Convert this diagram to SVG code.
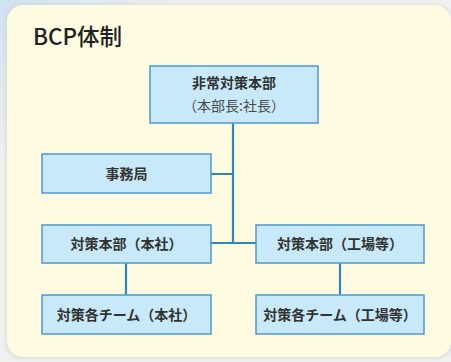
<svg xmlns="http://www.w3.org/2000/svg" width="451" height="362" viewBox="0 0 451 362">
<defs>
<radialGradient id="bg" cx="0" cy="0" r="1" gradientUnits="userSpaceOnUse" gradientTransform="translate(0 0) scale(200 160)">
<stop offset="0" stop-color="#cfe3f1"/>
<stop offset="1" stop-color="#f1f1f1"/>
</radialGradient>
<filter id="sh" x="-5%" y="-5%" width="110%" height="110%">
<feGaussianBlur stdDeviation="2.5"/>
</filter>
<style>
.box{fill:#c7e9f9;stroke:#4b9bd0;stroke-width:1.5}
.t{font-family:"Noto Sans CJK JP","Noto Sans",sans-serif;font-size:14px;font-weight:700;fill:#333;text-anchor:middle}
.sub{font-family:"Noto Sans CJK JP","Noto Sans",sans-serif;font-size:14px;font-weight:400;fill:#4a4a4a;text-anchor:middle}
.c{stroke:#2f87c0;stroke-width:2.2;fill:none}
</style>
</defs>
<rect width="451" height="362" fill="url(#bg)"/>
<rect x="6" y="5" width="446" height="353" rx="16" fill="#c8c8c8" opacity="0.6" filter="url(#sh)"/>
<rect x="7" y="5" width="444" height="352" rx="16" fill="#fffbe0"/>
<text x="33" y="45" font-family="'Noto Sans CJK JP','Noto Sans',sans-serif" font-size="22.5" font-weight="500" fill="#222">BCP体制</text>
<g id="connectors">
<path class="c" d="M233 123V243M211 174H233M211 243H256M126 263V295M340 263V295"/>
</g>
<g id="hq">
<rect class="box" x="150" y="66" width="168" height="57"/>
<text class="t" x="234" y="88">非常対策本部</text>
<text class="sub" x="234" y="111">（本部長:社長）</text>
</g>
<g id="office">
<rect class="box" x="42" y="154" width="169" height="39"/>
<text class="t" x="126.5" y="179">事務局</text>
</g>
<g id="hq-honsha">
<rect class="box" x="42" y="225" width="169" height="38"/>
<text class="t" x="126.5" y="249">対策本部（本社）</text>
</g>
<g id="hq-kojo">
<rect class="box" x="256" y="225" width="168" height="38"/>
<text class="t" x="340" y="249">対策本部（工場等）</text>
</g>
<g id="team-honsha">
<rect class="box" x="42" y="295" width="169" height="39"/>
<text class="t" x="126.5" y="320">対策各チーム（本社）</text>
</g>
<g id="team-kojo">
<rect class="box" x="256" y="295" width="168" height="39"/>
<text class="t" x="340" y="320">対策各チーム（工場等）</text>
</g>
</svg>
